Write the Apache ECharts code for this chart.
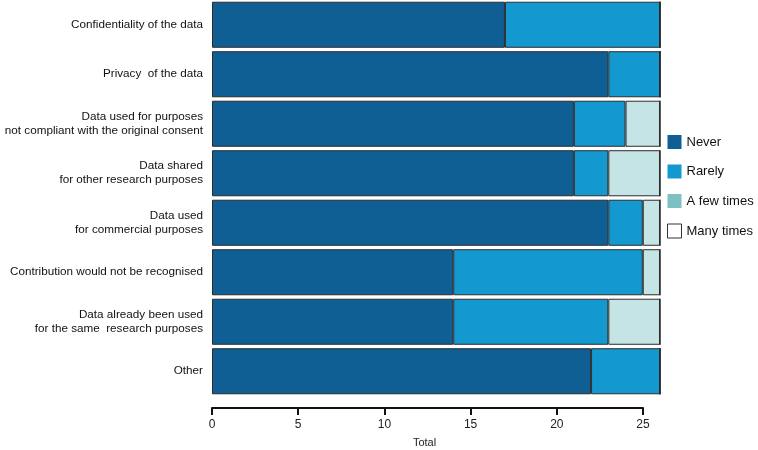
<!DOCTYPE html>
<html><head><meta charset="utf-8">
<script src="https://cdn.jsdelivr.net/npm/echarts@6/dist/echarts.min.js"></script>
<style>html,body{margin:0;padding:0;background:#fff}#c{width:758px;height:450px}</style>
</head><body><div id="c"></div>
<script>
const categories = [
  "Confidentiality of the data",
  "Privacy  of the data",
  "Data used for purposes\nnot compliant with the original consent",
  "Data shared\nfor other research purposes",
  "Data used\nfor commercial purposes",
  "Contribution would not be recognised",
  "Data already been used\nfor the same  research purposes",
  "Other"
];
const never     = [17, 23, 21, 21, 23, 14, 14, 22];
const rarely    = [9, 3, 3, 2, 2, 11, 9, 4];
const fewTimes  = [0, 0, 2, 3, 1, 1, 3, 0];
const manyTimes = [0, 0, 0, 0, 0, 0, 0, 0];
const xTicks = [0, 5, 10, 15, 20, 25];

const chart = echarts.init(document.getElementById('c'), null, {renderer: 'canvas'});
const font = 'Liberation Sans, Arial, sans-serif';
function bar(name, data, color) {
  return {
    name, type: 'bar', stack: 'total', data, xAxisIndex: 0, yAxisIndex: 0,
    barCategoryGap: '7%',
    itemStyle: {color, borderColor: '#2b2b2b', borderWidth: 1},
    emphasis: {disabled: true}
  };
}
chart.setOption({
  animation: false,
  backgroundColor: '#fff',
  grid: [
    {left: 212, top: 0, width: 448, height: 396, containLabel: false, outerBoundsMode: 'none'},
    {left: 212, top: 407, width: 431, height: 1, containLabel: false, outerBoundsMode: 'none'}
  ],
  legend: {
    orient: 'vertical', left: 662, top: 130, icon: 'rect',
    itemWidth: 14, itemHeight: 14, itemGap: 15.5,
    textStyle: {fontFamily: font, fontSize: 13, color: '#111', padding: [0, 0, 0, 0]},
    data: [
      {name: 'Never', itemStyle: {color: '#0f5f94', borderWidth: 0}},
      {name: 'Rarely', itemStyle: {color: '#1399d0', borderWidth: 0}},
      {name: 'A few times', itemStyle: {color: '#7dc0c4', borderWidth: 0}},
      {name: 'Many times', itemStyle: {color: '#fff', borderColor: '#333', borderWidth: 1}}
    ]
  },
  xAxis: [
    {gridIndex: 0, type: 'value', min: 0, max: 26, show: false},
    {gridIndex: 1, type: 'value', min: 0, max: 25, interval: 5, position: 'top',
     axisLine: {show: true, lineStyle: {color: '#111', width: 2}},
     axisTick: {show: true, inside: true, length: 7, lineStyle: {color: '#111', width: 2}},
     splitLine: {show: false},
     axisLabel: {color: '#222', fontFamily: font, fontSize: 12, margin: -18, verticalAlign: 'middle',
       formatter: v => xTicks.includes(v) ? String(v) : ''},
     name: 'Total', nameLocation: 'middle', nameGap: -41,
     nameTextStyle: {fontFamily: font, fontSize: 11, color: '#222', padding: [0, 6, 0, 0]}}
  ],
  yAxis: [
    {gridIndex: 0, type: 'category', data: categories, inverse: true,
     axisLine: {show: false}, axisTick: {show: false}, splitLine: {show: false},
     axisLabel: {fontFamily: font, fontSize: 11.7, color: '#111', margin: 9, lineHeight: 14, align: 'right'}},
    {gridIndex: 1, type: 'value', show: false}
  ],
  series: [
    bar('Never', never, '#0f5f94'),
    bar('Rarely', rarely, '#1399d0'),
    bar('A few times', fewTimes, '#c4e4e6'),
    bar('Many times', manyTimes, '#ffffff')
  ]
});
</script></body></html>
